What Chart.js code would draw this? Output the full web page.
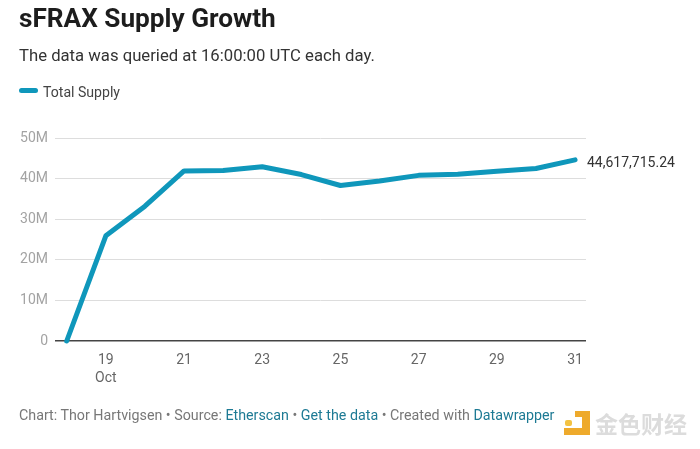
<!DOCTYPE html>
<html>
<head>
<meta charset="utf-8">
<script src="https://cdn.jsdelivr.net/npm/chart.js@4"></script>
<style>
  body { margin: 0; background: #fff; font-family: Roboto, sans-serif; }
  #wrap { position: relative; width: 700px; height: 449px; overflow: hidden; }
  canvas { position: absolute; left: 0; top: 0; }
  .txt { position: absolute; white-space: nowrap; }
  #title { left: 19px; top: 3px; font-size: 26.2px; font-weight: 700; color: #1d1d1d; }
  #sub { left: 19px; top: 46px; font-size: 16.7px; color: #333; }
  #legendLine { position: absolute; left: 19px; top: 88px; width: 19px; height: 5px; border-radius: 3px; background: #0f97bb; }
  #legendText { left: 43px; top: 84px; font-size: 14.1px; color: #444; }
  #foot { left: 19px; top: 407px; font-size: 14.27px; color: #777; }
  #foot a { color: #1d7a94; text-decoration: none; }
  .logo { position: absolute; background: #eeaa2c; }
  #mark { left: 595px; top: 406px; font-size: 23px; font-family: "Noto Sans CJK SC"; font-weight: 700; color: #dcdcdc; }
</style>
</head>
<body>
<div id="wrap">
  <canvas id="supplyChart" width="700" height="449"></canvas>
  <div class="txt" id="title">sFRAX Supply Growth</div>
  <div class="txt" id="sub">The data was queried at 16:00:00 UTC each day.</div>
  <div id="legendLine"></div>
  <div class="txt" id="legendText">Total Supply</div>
  <div class="txt" id="foot">Chart: Thor Hartvigsen • Source: <a>Etherscan</a> • <a>Get the data</a> • Created with <a>Datawrapper</a></div>
  <div class="logo" style="left:582px;top:411px;width:8px;height:24px"></div>
  <div class="logo" style="left:564px;top:428px;width:26px;height:7px"></div>
  <div class="logo" style="left:575px;top:411px;width:7px;height:6px"></div>
  <div class="logo" style="left:565px;top:420px;width:7px;height:6px;border-radius:2px;background:#f3c242"></div>
  <div class="txt" id="mark">金色财经</div>
</div>
<script>
// data
const days = [18, 19, 20, 21, 22, 23, 24, 25, 26, 27, 28, 29, 30, 31];
const supply = [0, 25.9, 33.2, 41.9, 42.0, 42.9, 41.0, 38.3, 39.4, 40.8, 41.05, 41.8, 42.5, 44.617715];
const tickDays = [19, 21, 23, 25, 27, 29, 31];
const yTicks = [0, 10, 20, 30, 40, 50];
const endLabel = "44,617,715.24";
const monthLabel = "Oct";

// label next to the last point
const endLabelPlugin = {
  id: "endLabel",
  afterDatasetsDraw(chart) {
    const c = chart.ctx;
    const last = chart.getDatasetMeta(0).data[days.length - 1];
    c.save();
    c.font = "14px Roboto";
    c.fillStyle = "#333";
    c.textBaseline = "middle";
    c.fillText(endLabel, 587, last.y + 4);
    c.restore();
  },
};

new Chart(document.getElementById("supplyChart"), {
  type: "line",
  data: {
    datasets: [
      {
        label: "Total Supply",
        data: days.map((d, i) => ({ x: d, y: supply[i] })),
        borderColor: "#0f97bb",
        borderWidth: 5,
        pointRadius: 0,
        fill: false,
        tension: 0,
        clip: false,
        borderCapStyle: "round",
        borderJoinStyle: "round",
      },
    ],
  },
  options: {
    responsive: false,
    animation: false,
    layout: { padding: { top: 138, right: 114, bottom: 58, left: 0 } },
    plugins: { legend: { display: false }, tooltip: { enabled: false } },
    scales: {
      x: {
        type: "linear",
        min: 17.7,
        max: 31.28,
        afterBuildTicks(axis) {
          axis.ticks = tickDays.map((v) => ({ value: v }));
        },
        afterFit(axis) {
          axis.height = 50;
        },
        border: { display: false },
        grid: { display: false },
        ticks: {
          autoSkip: false,
          maxRotation: 0,
          padding: 2,
          color: "#666",
          font: { family: "Roboto", size: 14, lineHeight: 1.3 },
          callback: (v) => (v === 19 ? [String(v), monthLabel] : String(v)),
        },
      },
      y: {
        min: 0,
        max: 50,
        afterBuildTicks(axis) {
          axis.ticks = yTicks.map((v) => ({ value: v }));
        },
        afterFit(axis) {
          axis.width = 55;
        },
        border: { display: false },
        grid: {
          color: (ctx) => (ctx.tick.value === 0 ? "#444" : "#ddd"),
          lineWidth: (ctx) => (ctx.tick.value === 0 ? 1.5 : 1),
          drawTicks: false,
        },
        ticks: {
          padding: 7,
          color: "#a3a3a3",
          font: { family: "Roboto", size: 14 },
          callback: (v) => (v === 0 ? "0" : v + "M"),
        },
      },
    },
  },
  plugins: [endLabelPlugin],
});
</script>
</body>
</html>
